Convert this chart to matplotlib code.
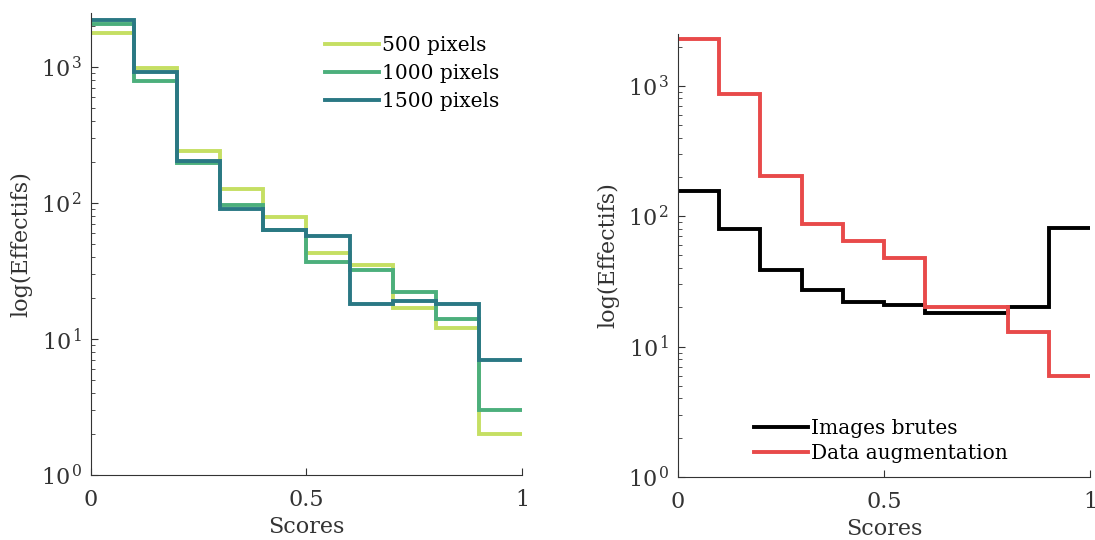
import numpy as np
import matplotlib.pyplot as plt

plt.rcParams['font.family'] = ['DejaVu Serif']
plt.rcParams['mathtext.fontset'] = 'dejavuserif'

# bin edges (scores)
edges = np.linspace(0, 1, 11)

# left panel: counts per bin for each image size
px500 = [1790, 980, 241, 126, 79, 43, 35, 17, 12, 2]
px1000 = [2070, 789, 196, 97, 63, 37, 32, 22, 14, 3]
px1500 = [2220, 919, 205, 90, 63, 57, 18, 19, 18, 7]
left_labels = ['500 pixels', '1000 pixels', '1500 pixels']
left_colors = ['#c5df63', '#4caf7c', '#2a7884']

# right panel
brutes = [157, 80, 39, 27, 22, 21, 18, 18, 20, 81]
augment = [2300, 863, 203, 87, 65, 48, 20, 20, 13, 6]
right_labels = ['Images brutes', 'Data augmentation']
right_colors = ['#000000', '#e84a4a']

fig = plt.figure(figsize=(10.95, 5.40), dpi=100)
ax1 = fig.add_axes([0.0831, 0.1204, 0.3936, 0.8556])
ax2 = fig.add_axes([0.6192, 0.1167, 0.3763, 0.8204])


def log_fmt(v, pos):
    e = int(round(np.log10(v)))
    return r'$10^{\,%d}$' % e


for s, lab, c in zip([px500, px1000, px1500], left_labels, left_colors):
    ax1.stairs(s, edges, baseline=None, color=c, lw=2.8, label=lab)
for s, lab, c in zip([brutes, augment], right_labels, right_colors):
    ax2.stairs(s, edges, baseline=None, color=c, lw=2.8, label=lab)

for ax in (ax1, ax2):
    ax.set_yscale('log')
    ax.set_xlim(0, 1)
    ax.set_ylim(1, 2500)
    ax.set_xticks([0, 0.5, 1])
    ax.set_xticklabels(['0', '0.5', '1'])
    ax.set_yticks([1, 10, 100, 1000])
    ax.yaxis.set_major_formatter(plt.FuncFormatter(log_fmt))
    ax.tick_params(which='both', direction='in', colors='#333333', labelsize=16)
    ax.tick_params(which='major', length=5)
    ax.tick_params(which='minor', length=3)
    ax.tick_params(axis='x', pad=10)
    ax.tick_params(axis='y', pad=6)
    for sp in ('top', 'right'):
        ax.spines[sp].set_visible(False)
    for sp in ('left', 'bottom'):
        ax.spines[sp].set_color('#333333')
    ax.set_xlabel('Scores', fontsize=16, color='#333333', labelpad=4)
    ax.set_ylabel('log(Effectifs)', fontsize=16, color='#333333', labelpad=6)

ax1.legend(loc='upper left', frameon=False, fontsize=14.5, handlelength=2.7,
           handletextpad=0.15, labelspacing=0.45, bbox_to_anchor=(0.5, 0.99))
ax2.legend(loc='lower left', frameon=False, fontsize=14.5, handlelength=2.7,
           handletextpad=0.15, labelspacing=0.3, bbox_to_anchor=(0.14, -0.01))

fig.savefig('out.png', dpi=100)
